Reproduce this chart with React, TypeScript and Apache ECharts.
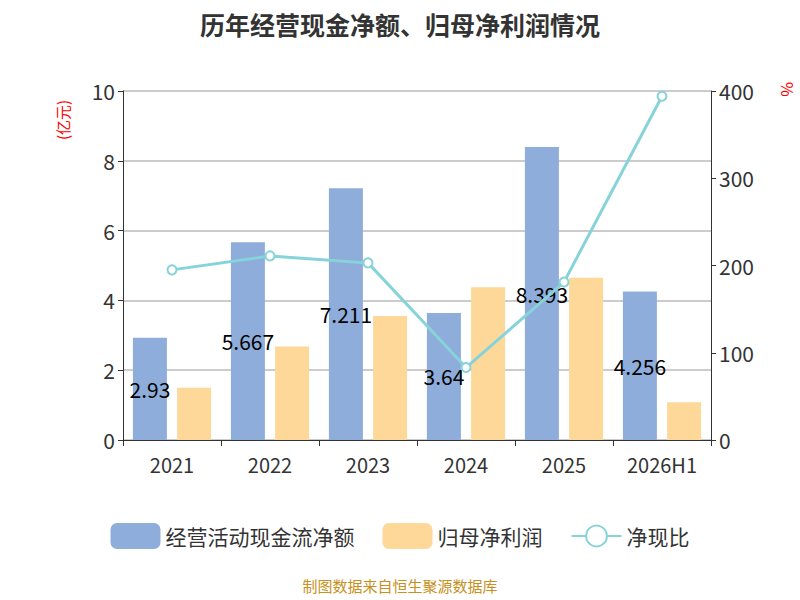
import React, { useEffect, useRef } from "react";
import * as echarts from "echarts";

const categories = ["2021", "2022", "2023", "2024", "2025", "2026H1"];
const cashFlow = [2.93, 5.667, 7.211, 3.64, 8.393, 4.256];
const netProfit = [1.5, 2.68, 3.55, 4.38, 4.65, 1.08];
const ratio = [195, 211, 203, 83, 181, 394];

export default function App() {
  const ref = useRef<HTMLDivElement>(null);
  useEffect(() => {
    const chart = echarts.init(ref.current!, null, { renderer: "svg" });
    const font = "Noto Sans CJK SC";
    chart.setOption({
      animation: false,
      textStyle: { fontFamily: font },
      title: {
        text: "历年经营现金净额、归母净利润情况",
        left: "center",
        top: 6,
        textStyle: { fontSize: 25, fontWeight: "bold", color: "#333", fontFamily: font },
      },
      grid: { left: 123, right: 89, top: 91, bottom: 160 },
      legend: {
        top: 518,
        left: "center",
        itemWidth: 50,
        itemHeight: 26,
        itemGap: 28,
        textStyle: { fontSize: 21, color: "#333" },
        data: ["经营活动现金流净额", "归母净利润", "净现比"],
      },
      graphic: [
        {
          type: "text",
          left: "center",
          top: 578,
          style: { text: "制图数据来自恒生聚源数据库", fill: "#c8901c", fontSize: 15, fontFamily: font },
        },
        {
          type: "text",
          x: 55,
          y: 140,
          rotation: Math.PI / 2,
          style: { text: "(亿元)", fill: "red", fontSize: 15, fontFamily: font },
        },
        {
          type: "text",
          x: 796,
          y: 82,
          rotation: -Math.PI / 2,
          style: { text: "%", fill: "red", fontSize: 16, fontFamily: font },
        },
      ],
      xAxis: {
        type: "category",
        data: categories,
        axisLine: { lineStyle: { color: "#333" } },
        axisTick: { show: true, length: 6, lineStyle: { color: "#333" } },
        axisLabel: { fontSize: 20, color: "#333", margin: 14 },
      },
      yAxis: [
        {
          type: "value",
          min: 0,
          max: 10,
          interval: 2,
          axisLine: { show: true, lineStyle: { color: "#333" } },
          axisTick: { show: true, lineStyle: { color: "#333" } },
          axisLabel: { fontSize: 21, color: "#333" },
          splitLine: { lineStyle: { color: "#bbb", width: 1.5 } },
        },
        {
          type: "value",
          min: 0,
          max: 400,
          interval: 100,
          axisLine: { show: true, lineStyle: { color: "#333" } },
          axisTick: { show: true, lineStyle: { color: "#333" } },
          axisLabel: { fontSize: 21, color: "#333" },
          splitLine: { show: false },
        },
      ],
      series: [
        {
          name: "经营活动现金流净额",
          type: "bar",
          data: cashFlow,
          barWidth: 34,
          barGap: "30%",
          itemStyle: { color: "#8eaddb" },
          label: { show: true, position: "inside", color: "#000", fontSize: 21 },
        },
        {
          name: "归母净利润",
          type: "bar",
          data: netProfit,
          barWidth: 34,
          itemStyle: { color: "#fed899" },
        },
        {
          name: "净现比",
          type: "line",
          yAxisIndex: 1,
          data: ratio,
          symbol: "circle",
          symbolSize: 9,
          lineStyle: { color: "#86d3d9", width: 3 },
          itemStyle: { color: "#fff", borderColor: "#86d3d9", borderWidth: 2 },
        },
      ],
    });
    return () => chart.dispose();
  }, []);
  return <div ref={ref} style={{ position: "absolute", left: 0, top: 0, width: 800, height: 600 }} />;
}
